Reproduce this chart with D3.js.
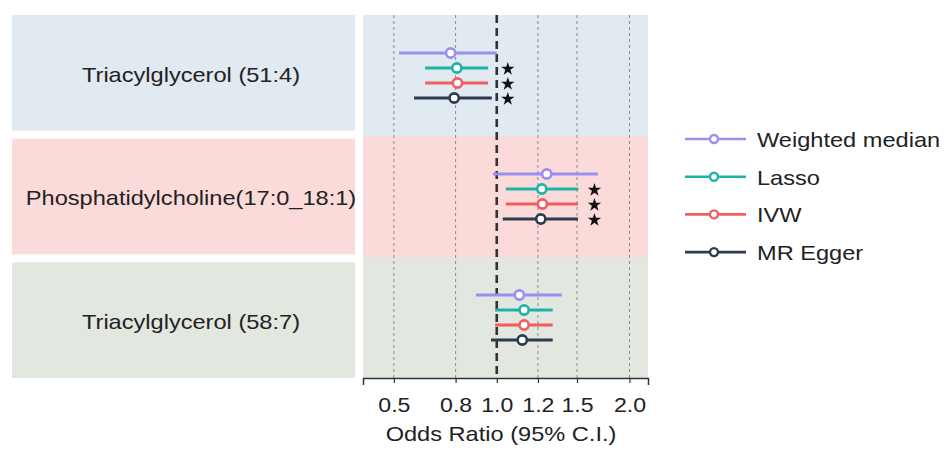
<!DOCTYPE html>
<html>
<head>
<meta charset="utf-8">
<script src="https://cdn.jsdelivr.net/npm/d3@7"></script>
<style>
  body { margin: 0; background: #fff; }
  text { font-family: "Liberation Sans", Arial, sans-serif; fill: #222; }
</style>
</head>
<body>
<div id="chart"></div>
<script>
// groups (rows) and methods
const groups = ["Triacylglycerol (51:4)", "Phosphatidylcholine(17:0_18:1)", "Triacylglycerol (58:7)"];
const groupColors = ["#e1e9f1", "#fbdada", "#e2e7e0"];
const methods = ["Weighted median", "Lasso", "IVW", "MR Egger"];
const methodColors = ["#9b8ef2", "#1fb3a5", "#f25d5d", "#2d3b4e"];

// positions on the axis (log-odds units, 0 = OR 1.0), one array per group
const estimate = [
  [-0.224, -0.194, -0.191, -0.207],
  [0.243, 0.219, 0.222, 0.214],
  [0.110, 0.133, 0.133, 0.124]
];
const lower = [
  [-0.475, -0.348, -0.348, -0.402],
  [-0.018, 0.044, 0.044, 0.029],
  [-0.101, -0.008, -0.008, -0.028]
];
const upper = [
  [0.0, -0.042, -0.042, -0.024],
  [0.492, 0.397, 0.395, 0.395],
  [0.316, 0.272, 0.272, 0.272]
];
const significant = [
  [false, true, true, true],
  [false, true, true, true],
  [false, false, false, false]
];

// axis ticks
const tickValues = [-0.5, -0.2, 0, 0.2, 0.39, 0.645];
const tickLabels = ["0.5", "0.8", "1.0", "1.2", "1.5", "2.0"];
const xDomain = [-0.65, 0.735];

var width = 946, height = 450;
var sx = 1.18; // text is a bit wide in the picture

var svg = d3.select("#chart").append("svg")
  .attr("width", width)
  .attr("height", height);

var plotTop = 15, plotBottom = 378;
var plotLeft = 363, plotRight = 648;

var x = d3.scaleLinear().domain(xDomain).range([plotLeft, plotRight]);
var yBand = d3.scaleBand().domain(groups).range([plotTop, plotBottom]);
var yPanel = d3.scaleBand().domain(groups).range([plotTop, plotBottom]).paddingInner(0.065);
var yRow = d3.scalePoint().domain(methods).range([-22.5, 22.5]);

function stretchText(sel, tx, ty) {
  return sel.attr("transform", `translate(${tx},${ty}) scale(${sx},1)`);
}

// left label panels
var panels = svg.append("g");
groups.forEach((g, i) => {
  panels.append("rect")
    .attr("x", 12).attr("width", 343)
    .attr("y", yPanel(g)).attr("height", yPanel.bandwidth())
    .attr("fill", groupColors[i]);
  panels.append("text")
    .attr("text-anchor", "middle")
    .attr("dominant-baseline", "central")
    .style("font-size", "20px")
    .call(stretchText, 191, yPanel(g) + yPanel.bandwidth() / 2 + 2)
    .text(g);
});

// plot background bands
var plot = svg.append("g");
groups.forEach((g, i) => {
  plot.append("rect")
    .attr("x", plotLeft).attr("width", plotRight - plotLeft)
    .attr("y", yBand(g)).attr("height", yBand.bandwidth())
    .attr("fill", groupColors[i]);
});

// grid lines
plot.selectAll(".grid")
  .data(tickValues.filter(d => d !== 0))
  .join("line")
  .attr("x1", d => x(d)).attr("x2", d => x(d))
  .attr("y1", plotTop).attr("y2", plotBottom)
  .attr("stroke", "#8a8a8a")
  .attr("stroke-width", 1)
  .attr("stroke-dasharray", "3,3");

// reference line at OR = 1
plot.append("line")
  .attr("x1", x(0)).attr("x2", x(0))
  .attr("y1", plotTop).attr("y2", plotBottom)
  .attr("stroke", "#333")
  .attr("stroke-width", 2.6)
  .attr("stroke-dasharray", "8,5");

// estimates
var rows = [];
groups.forEach((g, gi) => {
  var starAt = d3.max(upper[gi].filter((v, mi) => significant[gi][mi]));
  methods.forEach((m, mi) => {
    rows.push({
      group: g, method: m, color: methodColors[mi],
      est: estimate[gi][mi], lo: lower[gi][mi], hi: upper[gi][mi],
      sig: significant[gi][mi], starAt: starAt
    });
  });
});
var rowY = d => yBand(d.group) + yBand.bandwidth() / 2 + yRow(d.method);

plot.selectAll(".ci")
  .data(rows)
  .join("line")
  .attr("x1", d => x(d.lo)).attr("x2", d => x(d.hi))
  .attr("y1", rowY).attr("y2", rowY)
  .attr("stroke", d => d.color)
  .attr("stroke-width", 2.8);

plot.selectAll(".pt")
  .data(rows)
  .join("circle")
  .attr("cx", d => x(d.est))
  .attr("cy", rowY)
  .attr("r", 4.6)
  .attr("fill", "#fff")
  .attr("stroke", d => d.color)
  .attr("stroke-width", 2.6);

plot.selectAll(".star")
  .data(rows.filter(d => d.sig))
  .join("path")
  .attr("d", d3.symbol().type(d3.symbolStar).size(55))
  .attr("transform", d => `translate(${x(d.starAt) + 16},${rowY(d) + 1})`)
  .attr("fill", "#111");

// x axis
var axis = svg.append("g")
  .attr("transform", `translate(0,${plotBottom})`)
  .call(d3.axisBottom(x)
    .tickValues(tickValues)
    .tickFormat((d, i) => tickLabels[i])
    .tickSize(5)
    .tickSizeOuter(7));
axis.select(".domain").attr("stroke", "#333").attr("stroke-width", 1.5);
axis.selectAll(".tick line").attr("stroke", "#333").attr("stroke-width", 1.2);
axis.selectAll(".tick text")
  .attr("y", 19)
  .attr("transform", "scale(1.1,1)")
  .style("font-size", "21px")
  .style("font-family", "'Liberation Sans', Arial, sans-serif")
  .attr("fill", "#222");

svg.append("text")
  .attr("text-anchor", "middle")
  .style("font-size", "20px")
  .call(stretchText, 501, 441)
  .text("Odds Ratio (95% C.I.)");

// legend
var legend = svg.append("g");
methods.forEach((m, i) => {
  var ly = 139 + i * 37.7;
  legend.append("line")
    .attr("x1", 685).attr("x2", 746)
    .attr("y1", ly).attr("y2", ly)
    .attr("stroke", methodColors[i])
    .attr("stroke-width", 2.6);
  legend.append("circle")
    .attr("cx", 714).attr("cy", ly).attr("r", 4)
    .attr("fill", "#fff")
    .attr("stroke", methodColors[i])
    .attr("stroke-width", 2.4);
  legend.append("text")
    .attr("dominant-baseline", "central")
    .style("font-size", "20px")
    .call(stretchText, 757, ly + 1)
    .text(m);
});
</script>
</body>
</html>
